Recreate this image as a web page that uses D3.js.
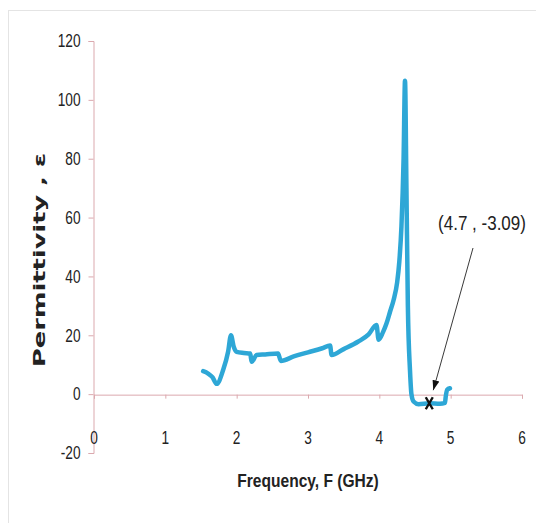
<!DOCTYPE html>
<html>
<head>
<meta charset="utf-8">
<script src="https://cdn.jsdelivr.net/npm/d3@7"></script>
<style>
  html, body { margin: 0; padding: 0; background: #fff; }
  svg { display: block; }
</style>
</head>
<body>
<svg id="chart" width="536" height="523"></svg>
<script>
// Measured permittivity versus frequency
const frequency = [1.53, 1.60, 1.66, 1.72, 1.81, 1.88, 1.92, 1.96, 2.00, 2.10, 2.19, 2.21, 2.28, 2.40, 2.58, 2.62,
  2.80, 3.00, 3.20, 3.31, 3.33, 3.50, 3.70, 3.85, 3.96, 3.99, 4.05, 4.10, 4.15, 4.20, 4.25, 4.28, 4.31, 4.34,
  4.36, 4.38, 4.40, 4.43, 4.45, 4.48, 4.55, 4.70, 4.85, 4.92, 4.93, 4.95, 4.99];
const permittivity = [7.8, 7.0, 5.8, 3.5, 8.2, 14.4, 20.0, 16.0, 14.4, 14.0, 13.8, 11.0, 13.3, 13.5, 13.8, 11.3,
  12.8, 14.2, 15.6, 16.5, 13.3, 15.3, 17.8, 20.3, 23.5, 18.5, 21.0, 24.0, 28.0, 32.0, 38.0, 45.0, 57.0, 80.0,
  106.5, 70.0, 30.0, 8.0, 0.0, -2.5, -3.4, -3.09, -3.3, -3.0, -1.0, 1.5, 2.0];

const xTicks = [0, 1, 2, 3, 4, 5, 6];
const yTicks = [-20, 0, 20, 40, 60, 80, 100, 120];

// Highlighted point
const markFreq = 4.7;
const markValue = -3.09;
const markLabel = "(" + markFreq + " , " + markValue + ")";

const xTitle = "Frequency,  F (GHz)";
const yTitle = "Permittivity , \u03b5";

const svg = d3.select("#chart");
const axisColor = "#dba9ae";
const lineColor = "#2ea7d6";
const plainFont = "'Liberation Sans', Arial, sans-serif";

// Frame of the chart area
svg.append("line").attr("x1", 8.5).attr("x2", 8.5).attr("y1", 10).attr("y2", 523)
  .attr("stroke", "#e4e4e4").attr("stroke-width", 1);
svg.append("line").attr("x1", 8).attr("x2", 536).attr("y1", 10.5).attr("y2", 10.5)
  .attr("stroke", "#e4e4e4").attr("stroke-width", 1);

const x = d3.scaleLinear().domain([0, 6]).range([94, 522]);
const y = d3.scaleLinear().domain([-20, 120]).range([453, 41]);

// Squeeze a text element to a fraction of its natural width
function condense(sel, factor) {
  sel.each(function () {
    const w = this.getComputedTextLength();
    d3.select(this).attr("textLength", w * factor).attr("lengthAdjust", "spacingAndGlyphs");
  });
}

// Y axis
const yAxis = svg.append("g").attr("transform", `translate(${x(0) - 0.5},0)`)
  .call(d3.axisLeft(y).tickValues(yTicks).tickSize(5).tickPadding(8).tickFormat(d => String(d)));
yAxis.select(".domain").attr("stroke", axisColor);
yAxis.selectAll(".tick line").attr("stroke", axisColor);
yAxis.selectAll(".tick text")
  .attr("font-family", plainFont)
  .attr("font-size", 18).attr("fill", "#222");
condense(yAxis.selectAll(".tick text"), 0.76);

// X axis along zero, labels set below the plot
const xAxis = svg.append("g").attr("transform", `translate(0,${y(0) + 0.5})`)
  .call(d3.axisBottom(x).tickValues(xTicks).tickSize(4).tickFormat(""));
xAxis.select(".domain").attr("stroke", axisColor);
xAxis.selectAll(".tick line").attr("stroke", axisColor);

const xLabels = svg.append("g").selectAll("text").data(xTicks).join("text")
  .attr("x", d => x(d)).attr("y", 444)
  .attr("text-anchor", "middle")
  .attr("font-family", plainFont)
  .attr("font-size", 18).attr("fill", "#222")
  .text(d => String(d));
condense(xLabels, 0.76);

// Axis titles
svg.append("text")
  .attr("transform", "translate(308,487) scale(0.82,1)")
  .attr("text-anchor", "middle")
  .attr("font-family", plainFont)
  .attr("font-weight", "bold").attr("font-size", 19).attr("fill", "#222")
  .text(xTitle);

svg.append("text")
  .attr("transform", "translate(45,260) rotate(-90)")
  .attr("text-anchor", "middle")
  .attr("font-family", "'DejaVu Sans', Verdana, sans-serif")
  .attr("font-weight", "bold").attr("font-size", 16).attr("fill", "#222")
  .attr("textLength", 214).attr("lengthAdjust", "spacingAndGlyphs")
  .text(yTitle);

// Permittivity curve
const pts = frequency.map((f, i) => [f, permittivity[i]]);
svg.append("path")
  .datum(pts)
  .attr("fill", "none")
  .attr("stroke", lineColor)
  .attr("stroke-width", 4.5)
  .attr("stroke-linejoin", "round")
  .attr("stroke-linecap", "round")
  .attr("d", d3.line().x(d => x(d[0])).y(d => y(d[1])).curve(d3.curveMonotoneX));

// Marked point
const mx = x(markFreq), my = y(markValue);
svg.append("path")
  .attr("d", `M${mx - 3.5},${my - 6}L${mx + 3.5},${my + 6}M${mx + 3.5},${my - 6}L${mx - 3.5},${my + 6}`)
  .attr("stroke", "#111").attr("stroke-width", 2.4).attr("fill", "none");

// Callout arrow
svg.append("defs").append("marker")
  .attr("id", "arrowhead").attr("viewBox", "0 0 10 10")
  .attr("refX", 10).attr("refY", 5)
  .attr("markerWidth", 10).attr("markerHeight", 10)
  .attr("markerUnits", "userSpaceOnUse")
  .attr("orient", "auto")
  .append("path").attr("d", "M0,1.5L10,5L0,8.5Z").attr("fill", "#111");

svg.append("line")
  .attr("x1", 473).attr("y1", 248)
  .attr("x2", mx + 4).attr("y2", my - 13)
  .attr("stroke", "#222").attr("stroke-width", 0.9)
  .attr("marker-end", "url(#arrowhead)");

svg.append("text")
  .attr("transform", "translate(482,230) scale(0.85,1)")
  .attr("text-anchor", "middle")
  .attr("font-family", plainFont)
  .attr("font-size", 20).attr("fill", "#222")
  .text(markLabel);
</script>
</body>
</html>
